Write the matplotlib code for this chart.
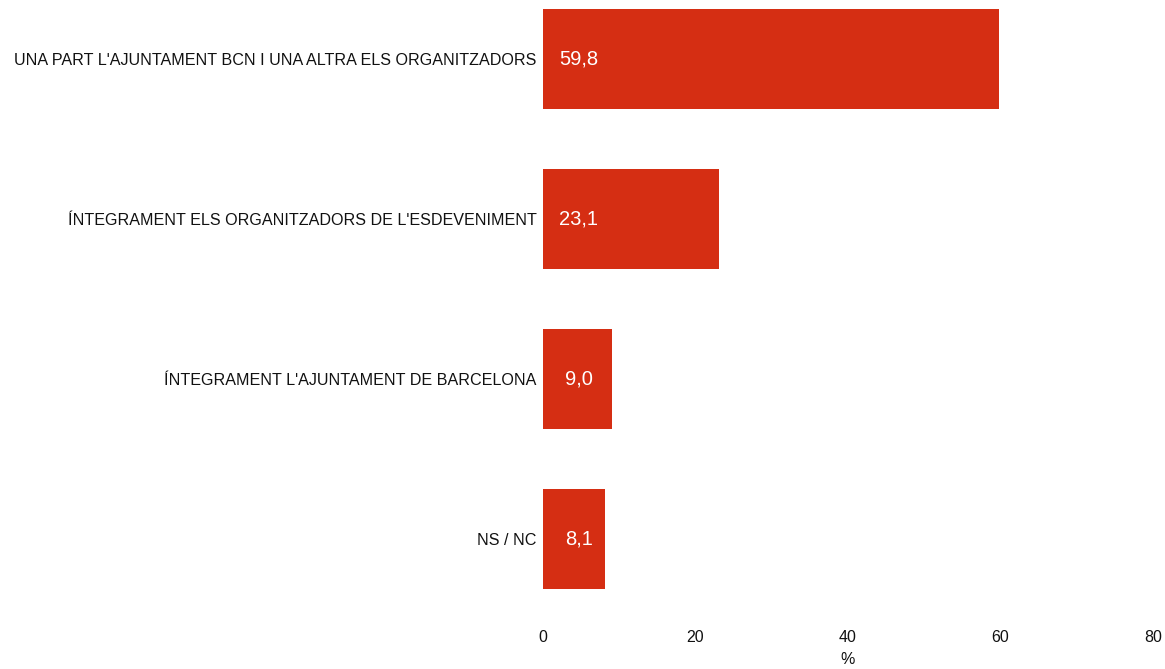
import matplotlib.pyplot as plt

plt.rcParams['font.family'] = ['Liberation Sans', 'DejaVu Sans']

# Data
categories = [
    "UNA PART L'AJUNTAMENT BCN I UNA ALTRA ELS ORGANITZADORS",
    "ÍNTEGRAMENT ELS ORGANITZADORS DE L'ESDEVENIMENT",
    "ÍNTEGRAMENT L'AJUNTAMENT DE BARCELONA",
    "NS / NC",
]
values = [59.8, 23.1, 9.0, 8.1]
x_ticks = [0, 20, 40, 60, 80]

bar_color = "#d52e13"

fig = plt.figure(figsize=(11.65, 6.69), dpi=100)
ax = fig.add_axes([543 / 1165, 49 / 669, 610 / 1165, 620 / 669])

ypos = list(range(len(categories)))
ax.barh(ypos, values, height=0.625, color=bar_color)

# value labels inside the bars
for y, v in zip(ypos, values):
    ax.annotate(f"{v:.1f}".replace(".", ","), xy=(0, y), xytext=(36, 0),
                textcoords="offset pixels", ha="center", va="center",
                color="white", fontsize=14.5)

ax.set_xlim(0, 80)
ax.set_ylim(3.507, -0.368)
ax.set_yticks(ypos)
ax.set_yticklabels(categories, fontsize=11.6)
ax.set_xticks(x_ticks)
ax.set_xticklabels([str(t) for t in x_ticks], fontsize=11.5)
ax.tick_params(axis="both", length=0, colors="#111111")
ax.tick_params(axis="x", pad=7.5)
ax.tick_params(axis="y", pad=4.5)
ax.set_xlabel("%", fontsize=11.5, color="#111111", labelpad=4.5)

for s in ax.spines.values():
    s.set_visible(False)

fig.savefig("out.png", dpi=100)
